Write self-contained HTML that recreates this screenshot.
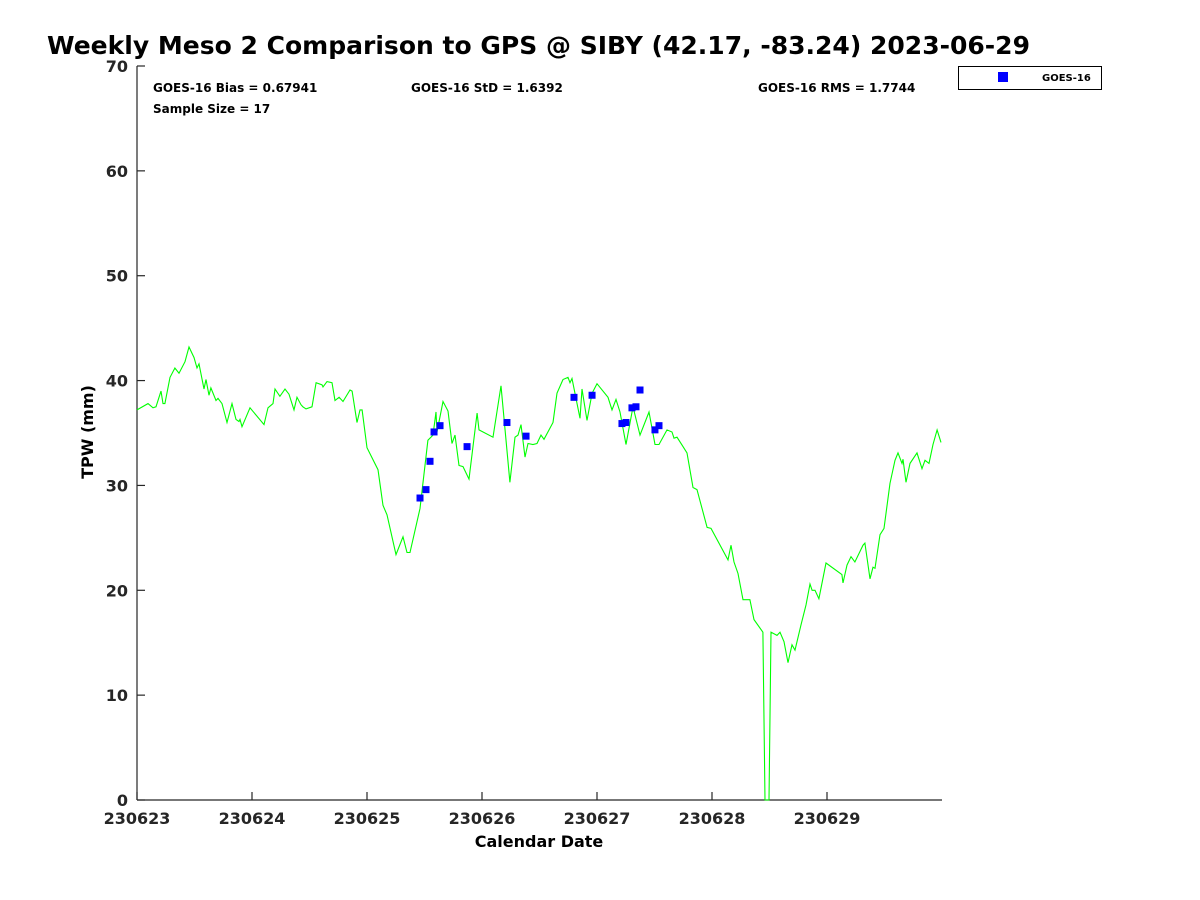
<!DOCTYPE html>
<html><head><meta charset="utf-8"><style>
html,body{margin:0;padding:0;background:#fff;}
svg{display:block;font-family:"DejaVu Sans","Liberation Sans",sans-serif;font-weight:bold;}
</style></head><body>
<svg id="chart" width="1200" height="900" viewBox="0 0 1200 900" xmlns="http://www.w3.org/2000/svg">
<rect width="1200" height="900" fill="#fff"/>
<text x="47" y="54" font-size="25" textLength="983" lengthAdjust="spacingAndGlyphs">Weekly Meso 2 Comparison to GPS @ SIBY (42.17, -83.24) 2023-06-29</text>
<text x="153" y="92" font-size="12">GOES-16 Bias = 0.67941</text>
<text x="411" y="92" font-size="12">GOES-16 StD = 1.6392</text>
<text x="758" y="92" font-size="12">GOES-16 RMS = 1.7744</text>
<text x="153" y="113" font-size="12">Sample Size = 17</text>
<g>
<rect x="958.5" y="66.5" width="143" height="23" fill="#fff" stroke="#000" stroke-width="1"/>
<rect x="998" y="72" width="10" height="10" fill="#0000ff"/>
<text x="1042" y="81" font-size="10">GOES-16</text>
</g>
<text x="0" y="0" font-size="16" text-anchor="middle" transform="translate(93,432) rotate(-90)">TPW (mm)</text>
<text x="539" y="847" font-size="16" text-anchor="middle">Calendar Date</text>
<g id="axes"></g>
<g id="marks"></g>
</svg>
<script>
const xTickLabels=["230623","230624","230625","230626","230627","230628","230629"];
const yTicks=[0,10,20,30,40,50,60,70];
const gpsDays=[0,0.096,0.139,0.165,0.209,0.226,0.243,0.287,0.330,0.365,0.417,0.452,0.496,0.522,0.539,0.583,0.600,0.626,0.643,0.687,0.704,0.739,0.783,0.826,0.861,0.887,0.896,0.913,0.983,1.104,1.139,1.183,1.200,1.243,1.287,1.322,1.365,1.391,1.426,1.443,1.470,1.522,1.557,1.609,1.617,1.652,1.696,1.722,1.757,1.791,1.852,1.870,1.913,1.939,1.957,2.000,2.096,2.139,2.174,2.252,2.313,2.348,2.374,2.461,2.530,2.574,2.600,2.609,2.661,2.704,2.739,2.765,2.800,2.835,2.887,2.957,2.974,3.096,3.165,3.243,3.287,3.313,3.339,3.374,3.400,3.443,3.478,3.513,3.539,3.617,3.652,3.704,3.748,3.765,3.783,3.852,3.870,3.913,3.957,4.000,4.096,4.130,4.165,4.200,4.252,4.313,4.374,4.452,4.504,4.539,4.609,4.652,4.670,4.696,4.748,4.783,4.835,4.870,4.957,4.991,5.139,5.165,5.191,5.226,5.270,5.330,5.365,5.443,5.461,5.496,5.513,5.565,5.591,5.626,5.661,5.696,5.722,5.774,5.817,5.852,5.870,5.896,5.930,5.991,6.130,6.139,6.174,6.209,6.243,6.313,6.330,6.374,6.400,6.417,6.461,6.496,6.548,6.591,6.617,6.652,6.661,6.687,6.722,6.783,6.826,6.852,6.887,6.922,6.957,6.991];
const gpsTpw=[37.2,37.8,37.4,37.5,39.0,37.8,37.8,40.3,41.2,40.7,41.8,43.2,42.2,41.2,41.6,39.2,40.1,38.6,39.3,38.1,38.3,37.8,36.0,37.8,36.3,36.1,36.3,35.6,37.4,35.8,37.4,37.8,39.2,38.5,39.2,38.7,37.2,38.4,37.7,37.5,37.3,37.5,39.8,39.6,39.4,39.9,39.8,38.1,38.4,38.0,39.1,39.0,36.0,37.2,37.2,33.6,31.5,28.1,27.2,23.4,25.1,23.6,23.6,27.8,34.3,34.8,37.0,35.1,38.0,37.1,34.0,34.8,31.9,31.8,30.6,36.9,35.3,34.6,39.5,30.3,34.6,34.8,35.8,32.7,34.0,33.9,34.0,34.8,34.4,36.0,38.8,40.1,40.3,39.8,40.2,36.4,39.2,36.2,38.8,39.7,38.4,37.2,38.2,37.0,33.9,37.5,34.8,37.0,33.9,33.9,35.3,35.1,34.5,34.6,33.7,33.1,29.8,29.6,26.0,25.9,22.9,24.3,22.7,21.6,19.1,19.1,17.2,16.0,0,0,16.0,15.7,16.0,15.1,13.1,14.8,14.3,16.7,18.6,20.6,20.0,20.0,19.2,22.6,21.5,20.7,22.4,23.2,22.7,24.3,24.5,21.1,22.2,22.1,25.3,25.9,30.2,32.4,33.1,32.1,32.5,30.3,32.1,33.1,31.6,32.4,32.1,33.9,35.3,34.1];
const goesDays=[2.461,2.513,2.548,2.583,2.635,2.870,3.217,3.383,3.800,3.957,4.217,4.252,4.304,4.339,4.374,4.504,4.539];
const goesTpw=[28.8,29.6,32.3,35.1,35.7,33.7,36.0,34.7,38.4,38.6,35.9,36.0,37.4,37.5,39.1,35.3,35.7];

const NS="http://www.w3.org/2000/svg";
const X0=137,X1=942,Y0=800,Y1=66;
const xScale=d=>X0+d*(X1-X0)/7;
const yScale=v=>Y0-v*(Y0-Y1)/70;
function mk(tag,attrs,parent){const e=document.createElementNS(NS,tag);for(const k in attrs)e.setAttribute(k,attrs[k]);parent.appendChild(e);return e;}
const axes=document.getElementById('axes'),marks=document.getElementById('marks');
let e=mk('line',{x1:X0,y1:Y1,x2:X0,y2:Y0,stroke:'#262626','stroke-width':1.2},axes);


e=mk('line',{x1:X0,y1:Y0,x2:X1,y2:Y0,stroke:'#262626','stroke-width':1.2},axes);


yTicks.forEach(v=>{
  const y=yScale(v);
  const t=mk('line',{x1:X0,y1:y,x2:X0+8,y2:y,stroke:'#262626','stroke-width':1.2},axes);
  
  
  const l=mk('text',{x:X0-9,y:y+6,'font-size':16,'text-anchor':'end',fill:'#262626'},axes);
  l.textContent=v;
  
  
});
xTickLabels.forEach((s,i)=>{
  const x=xScale(i);
  const t=mk('line',{x1:x,y1:Y0,x2:x,y2:Y0-8,stroke:'#262626','stroke-width':1.2},axes);
  
  
  const l=mk('text',{x:x,y:Y0+24,'font-size':16,'text-anchor':'middle',fill:'#262626'},axes);
  l.textContent=s;
  
  
});
const pts=gpsDays.map((d,i)=>xScale(d).toFixed(1)+','+yScale(gpsTpw[i]).toFixed(1)).join(' ');
const line=mk('polyline',{points:pts,fill:'none',stroke:'#00ff00','stroke-width':1.1},marks);


goesDays.forEach((d,i)=>{
  const r=mk('rect',{x:xScale(d)-3.5,y:yScale(goesTpw[i])-3.5,width:7,height:7,fill:'#0000ff'},marks);
  
  
});
</script>
</body></html>
